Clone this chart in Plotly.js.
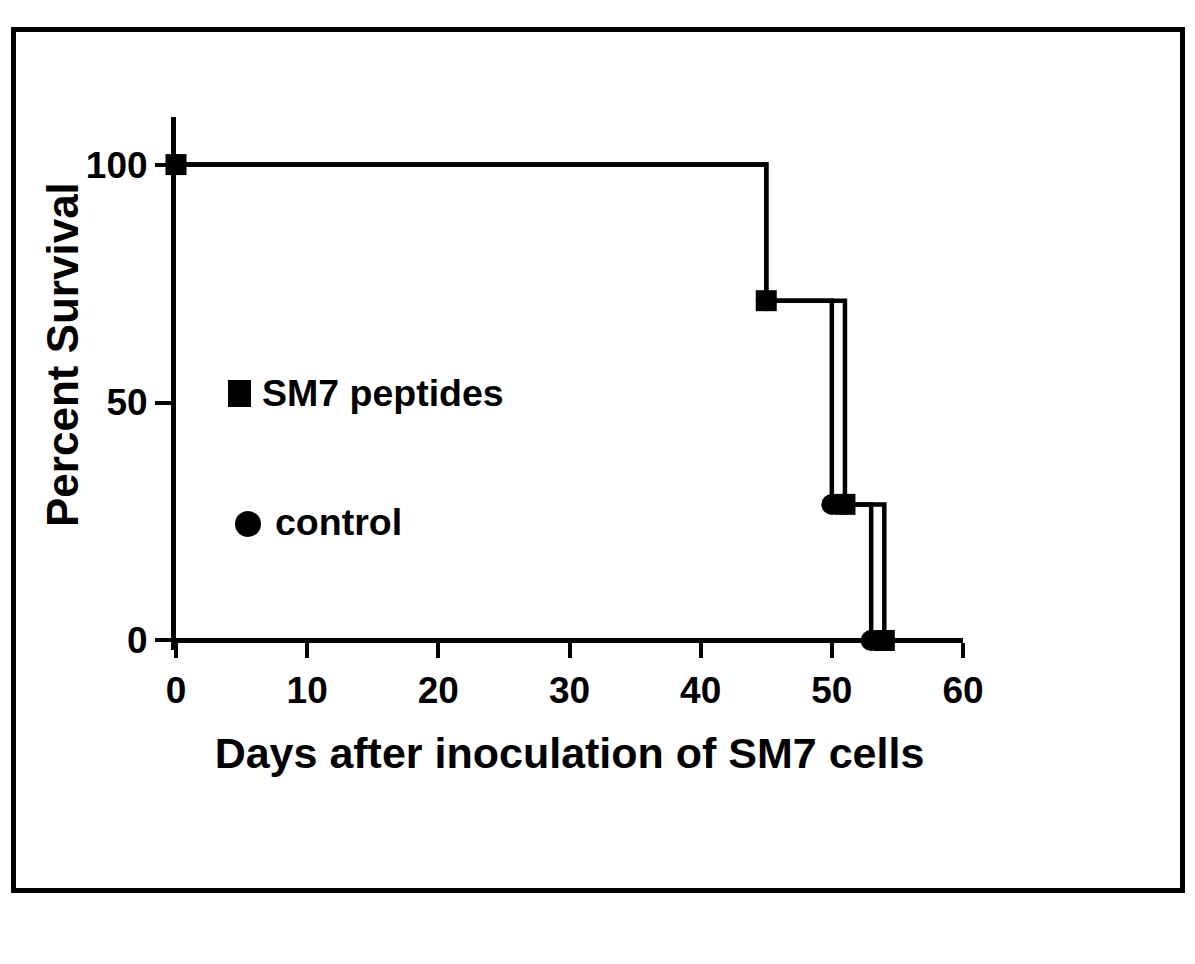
<!DOCTYPE html>
<html>
<head>
<meta charset="utf-8">
<script src="https://cdn.plot.ly/plotly-3.0.1.min.js"></script>
<style>html,body{margin:0;padding:0;background:#fff;}#chart{width:1195px;height:964px;}</style>
</head>
<body>
<div id="chart"></div>
<script>
// Data (Kaplan-Meier survival, percent)
const daysControl = [0, 45, 50, 53];
const survivalControl = [100, 71.4, 28.6, 0];
const daysPeptides = [0, 45, 51, 54];
const survivalPeptides = [100, 71.4, 28.6, 0];
const seriesNames = ["control", "SM7 peptides"];
const xTickValues = [0, 10, 20, 30, 40, 50, 60];
const yTickValues = [0, 50, 100];

const FONT = "Liberation Sans, Arial, Helvetica, sans-serif";

const traces = [
  {
    x: daysControl, y: survivalControl, name: seriesNames[0],
    type: "scatter", mode: "lines+markers",
    line: {shape: "hv", color: "#000", width: 4.5},
    marker: {symbol: "circle", size: 21, color: "#000", line: {width: 0}},
    cliponaxis: false, showlegend: false
  },
  {
    x: daysPeptides, y: survivalPeptides, name: seriesNames[1],
    type: "scatter", mode: "lines+markers",
    line: {shape: "hv", color: "#000", width: 4.5},
    marker: {symbol: "square", size: 21, color: "#000", line: {width: 0}},
    cliponaxis: false, showlegend: false
  }
];

const layout = {
  width: 1195, height: 964,
  margin: {l: 176, r: 232, t: 117, b: 314},
  paper_bgcolor: "#fff", plot_bgcolor: "#fff",
  showlegend: false,
  font: {family: FONT, color: "#000"},
  xaxis: {
    range: [0, 60], tickvals: xTickValues, ticktext: xTickValues.map(String),
    anchor: "free", position: 2 / 112,
    showline: true, linecolor: "#000", linewidth: 5,
    ticks: "outside", ticklen: 15, tickwidth: 4, tickcolor: "#000",
    showgrid: false, zeroline: false,
    tickfont: {family: FONT, size: 37, color: "#000", weight: "bold"},
    title: {text: "<b>Days after inoculation of SM7 cells</b>", font: {family: FONT, size: 43, color: "#000"}, standoff: 28}
  },
  yaxis: {
    range: [-2, 110], tickvals: yTickValues, ticktext: yTickValues.map(String),
    showline: true, linecolor: "#000", linewidth: 5,
    ticks: "outside", ticklen: 16, tickwidth: 4, tickcolor: "#000",
    showgrid: false, zeroline: false,
    tickfont: {family: FONT, size: 37, color: "#000", weight: "bold"}
  },
  annotations: [
    {text: "<b>Percent Survival</b>", xref: "paper", yref: "paper",
     x: (62 - 176) / 787, y: (650 - 355) / 533, xanchor: "center", yanchor: "middle",
     textangle: -90, showarrow: false, font: {family: FONT, size: 44, color: "#000"}},
    {text: "<b>SM7 peptides</b>", xref: "paper", yref: "paper",
     x: (260 - 176) / 787, y: (650 - 393) / 533, xanchor: "left", yanchor: "middle",
     showarrow: false, font: {family: FONT, size: 37.5, color: "#000"}},
    {text: "<b>control</b>", xref: "paper", yref: "paper",
     x: (273 - 176) / 787, y: (650 - 522) / 533, xanchor: "left", yanchor: "middle",
     showarrow: false, font: {family: FONT, size: 37.5, color: "#000"}}
  ],
  shapes: [
    // outer frame
    {type: "rect", xref: "paper", yref: "paper",
     x0: (13.5 - 176) / 787, x1: (1182.5 - 176) / 787,
     y0: (650 - 890.5) / 533, y1: (650 - 29.5) / 533,
     line: {color: "#000", width: 5}, fillcolor: "rgba(0,0,0,0)"},
    // legend symbols
    {type: "rect", xref: "paper", yref: "paper",
     x0: (228 - 176) / 787, x1: (251 - 176) / 787,
     y0: (650 - 407) / 533, y1: (650 - 380) / 533,
     line: {width: 0}, fillcolor: "#000"},
    {type: "circle", xref: "paper", yref: "paper",
     x0: (235 - 176) / 787, x1: (261 - 176) / 787,
     y0: (650 - 537) / 533, y1: (650 - 511) / 533,
     line: {width: 0}, fillcolor: "#000"}
  ]
};

Plotly.newPlot("chart", traces, layout, {staticPlot: true, displayModeBar: false});
</script>
</body>
</html>
